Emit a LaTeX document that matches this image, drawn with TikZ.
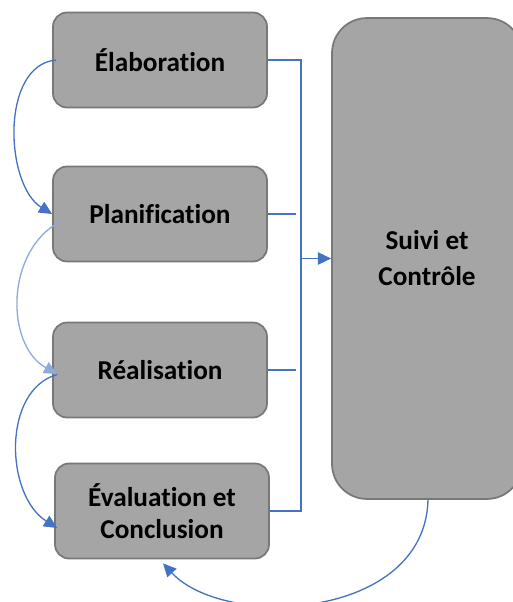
\documentclass[tikz,border=0pt]{standalone}
\usepackage{fontspec}
\setmainfont{Carlito}[Ligatures=NoCommon]
\usetikzlibrary{arrows.meta}

\definecolor{grisboite}{HTML}{A5A5A5}
\definecolor{grisbord}{HTML}{787878}
\definecolor{bleulien}{HTML}{4472C4}
\definecolor{bleuclair}{HTML}{8FAADC}

\begin{document}
\begin{tikzpicture}[
  x=0.02cm, y=-0.02cm,
  font=\fontsize{15.5}{18.5}\selectfont\bfseries,
  etape/.style={draw=grisbord, fill=grisboite, line width=1pt,
                rounded corners=0.28cm, minimum width=4.28cm,
                minimum height=1.9cm, align=center},
  controle/.style={etape, rounded corners=0.7cm, minimum width=3.8cm,
                   minimum height=9.62cm, font=\fontsize{15.5}{20.5}\selectfont\bfseries},
  lien/.style={draw=bleulien, line width=0.75pt},
  fleche/.style={lien, -{Triangle[length=7.5pt,width=7pt]}}
]
\useasboundingbox (0,0) rectangle (512,602);

%--------------------------------------------------------------
% Etapes du projet et bloc de suivi
%--------------------------------------------------------------
\node[etape] (elab) at (160,60)  {Élaboration};
\node[etape] (plan) at (160,214) {Planification};
\node[etape] (real) at (160,370) {Réalisation};
\node[etape] (eval) at (162,511) {Évaluation et\\Conclusion};

\node[controle] (suivi) at (427,258.5) {Suivi et\\Contrôle};

%--------------------------------------------------------------
% Liaisons vers le suivi
%--------------------------------------------------------------
\coordinate (bus) at (301,60);
\coordinate (arret) at (296,0);

\draw[lien] (elab.east) -- (bus) |- (eval.east);
\foreach \n in {plan,real}
  \draw[lien] (\n.east) -- (\n.east -| arret);
\draw[fleche] (bus |- suivi.west) -- (suivi.west);

%--------------------------------------------------------------
% Enchainement des etapes
%--------------------------------------------------------------
\draw[fleche] ([shift={(4,0)}]elab.west)
  .. controls (0,65) and (5,185) .. (plan.west);
\draw[fleche, draw=bleuclair] ([shift={(9,7)}]plan.west)
  .. controls (5,250) and (5,345) .. ([shift={(5,4)}]real.west);
\draw[fleche] ([shift={(5,4.5)}]real.west)
  .. controls (2,390) and (5,495) .. ([shift={(3,17)}]eval.west);

% retour du suivi vers l'evaluation
\draw[fleche] ([shift={(1,0)}]suivi.south)
  .. controls (425,620) and (225,630) .. ([shift={(1,4)}]eval.south);

\end{tikzpicture}
\end{document}
